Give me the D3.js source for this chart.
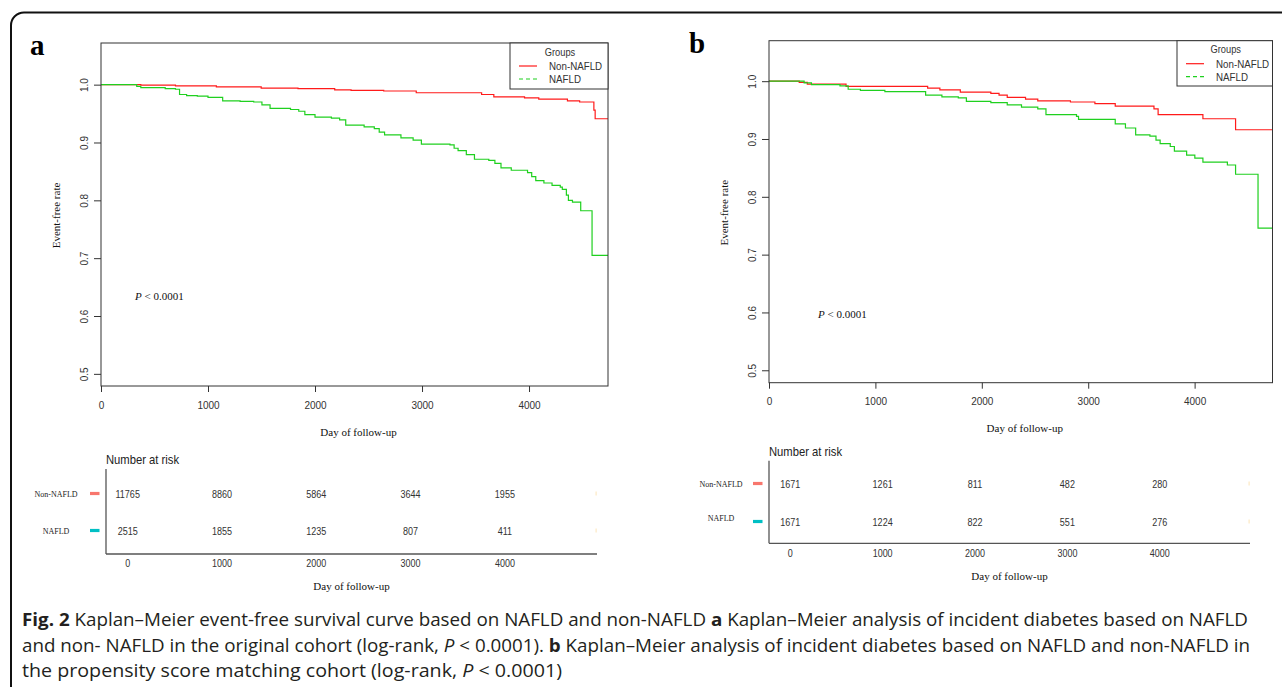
<!DOCTYPE html>
<html>
<head>
<meta charset="utf-8">
<script src="https://cdn.jsdelivr.net/npm/d3@7"></script>
<style>
  html, body { margin: 0; padding: 0; background: #fff; }
  svg { display: block; }
</style>
</head>
<body>
<svg id="chart" width="1282" height="687"></svg>
<script>
// ---------------- DATA ----------------
const groups = ["Non-NAFLD", "NAFLD"];
const xTicks = [0, 1000, 2000, 3000, 4000];
const yTicks = [0.5, 0.6, 0.7, 0.8, 0.9, 1.0];
const riskTimes = [0, 1000, 2000, 3000, 4000];

// Panel a: original cohort (step points: time, survival)
const aNonTime = [0, 372, 696, 1078, 1497, 1841, 2184, 2337, 2642, 2946, 3557, 3671, 3958, 4091, 4359, 4473, 4606, 4618, 4738];
const aNonSurv = [1.0, 0.999, 0.998, 0.996, 0.994, 0.993, 0.991, 0.990, 0.989, 0.986, 0.983, 0.979, 0.977, 0.975, 0.972, 0.970, 0.956, 0.941, 0.941];
const aNafTime = [0, 334, 372, 600, 696, 734, 800, 900, 1000, 1137, 1300, 1427, 1504, 1580, 1771, 1848, 1905, 2000, 2153, 2230, 2287, 2459, 2554, 2600, 2650, 2803, 2917, 2994, 3261, 3300, 3337, 3414, 3490, 3624, 3681, 3738, 3834, 3986, 4025, 4063, 4139, 4215, 4292, 4311, 4349, 4368, 4406, 4483, 4589, 4738];
const aNafSurv = [1.0, 0.997, 0.995, 0.993, 0.992, 0.983, 0.981, 0.980, 0.978, 0.972, 0.971, 0.970, 0.965, 0.959, 0.957, 0.954, 0.948, 0.944, 0.942, 0.939, 0.930, 0.927, 0.924, 0.918, 0.913, 0.908, 0.904, 0.897, 0.896, 0.890, 0.886, 0.879, 0.871, 0.869, 0.864, 0.856, 0.852, 0.848, 0.841, 0.834, 0.830, 0.826, 0.823, 0.819, 0.809, 0.800, 0.797, 0.782, 0.705, 0.705];

// Panel b: propensity score matching cohort
const bNonTime = [0, 284, 360, 724, 1491, 1606, 1798, 2085, 2162, 2239, 2411, 2526, 2833, 3063, 3254, 3618, 3657, 4078, 4385, 4732];
const bNonSurv = [1.0, 0.998, 0.995, 0.991, 0.988, 0.985, 0.981, 0.979, 0.976, 0.972, 0.969, 0.966, 0.964, 0.961, 0.957, 0.952, 0.942, 0.935, 0.916, 0.916];
const bNafTime = [0, 330, 399, 667, 744, 859, 1089, 1472, 1625, 1779, 1855, 2085, 2239, 2373, 2526, 2603, 2890, 2909, 3254, 3350, 3446, 3580, 3637, 3676, 3771, 3810, 3925, 4002, 4078, 4308, 4385, 4596, 4732];
const bNafSurv = [1.0, 0.997, 0.994, 0.992, 0.986, 0.984, 0.982, 0.976, 0.973, 0.971, 0.965, 0.963, 0.959, 0.955, 0.952, 0.942, 0.939, 0.934, 0.926, 0.919, 0.907, 0.905, 0.898, 0.892, 0.887, 0.879, 0.872, 0.867, 0.860, 0.855, 0.839, 0.746, 0.746];

// Number at risk
const aRiskNon = [11765, 8860, 5864, 3644, 1955];
const aRiskNaf = [2515, 1855, 1235, 807, 411];
const bRiskNon = [1671, 1261, 811, 482, 280];
const bRiskNaf = [1671, 1224, 822, 551, 276];

const captionLines = [
  [{t:"Fig. 2", b:1}, {t:" Kaplan–Meier event-free survival curve based on NAFLD and non-NAFLD "}, {t:"a", b:1}, {t:" Kaplan–Meier analysis of incident diabetes based on NAFLD"}],
  [{t:"and non- NAFLD in the original cohort (log-rank, "}, {t:"P", i:1}, {t:" < 0.0001). "}, {t:"b", b:1}, {t:" Kaplan–Meier analysis of incident diabetes based on NAFLD and non-NAFLD in"}],
  [{t:"the propensity score matching cohort (log-rank, "}, {t:"P", i:1}, {t:" < 0.0001)"}]
];

// ---------------- STYLE / LAYOUT ----------------
const RED = "#ff1a1a", GREEN = "#1fd01f";
const RISK_COLORS = ["#f8766d", "#00bfc4"];
const SANS = "'Liberation Sans', Arial, Helvetica, sans-serif";
const SERIF = "'Liberation Serif', 'Times New Roman', serif";

const svg = d3.select("#chart");

// outer rounded frame
svg.append("rect").attr("x", 11).attr("y", 12.5).attr("width", 1320).attr("height", 720)
  .attr("rx", 13).attr("fill", "none").attr("stroke", "#111").attr("stroke-width", 2);

const panels = [
  { label: "a", lx: 30, ly: 55,
    box: {l: 101, t: 43, r: 608, b: 386}, xDom: [0, 4738], yDom: [0.479, 1.072],
    series: [[aNonTime, aNonSurv], [aNafTime, aNafSurv]],
    legend: {l: 510, t: 43, r: 608, b: 89},
    pText: {x: 135, y: 300},
    yLabX: 60,
    table: {l: 106, r: 597, top: 469, bottom: 554, rows: [493.5, 530.5], titleY: 464, tickY: 567, xLabY: 590, labX: 56, rowLabY: [497, 534], dashX: 90},
    risk: [aRiskNon, aRiskNaf]
  },
  { label: "b", lx: 689, ly: 53,
    box: {l: 769, t: 40.7, r: 1272.5, b: 382.7}, xDom: [0, 4732], yDom: [0.4785, 1.070],
    series: [[bNonTime, bNonSurv], [bNafTime, bNafSurv]],
    legend: {l: 1177, t: 40.7, r: 1272.5, b: 86},
    pText: {x: 818, y: 318},
    yLabX: 728,
    table: {l: 769, r: 1250, top: 460.7, bottom: 543.3, rows: [483.5, 521.5], titleY: 456, tickY: 557, xLabY: 580, labX: 721, rowLabY: [487, 521], dashX: 753},
    risk: [bRiskNon, bRiskNaf]
  }
];

panels.forEach(p => {
  const g = svg.append("g");
  const B = p.box;
  const x = d3.scaleLinear().domain(p.xDom).range([B.l, B.r]);
  const y = d3.scaleLinear().domain(p.yDom).range([B.b, B.t]);

  // panel letter
  g.append("text").attr("x", p.lx).attr("y", p.ly).text(p.label)
    .attr("font-family", SERIF).attr("font-weight", "bold").attr("font-size", 29).attr("fill", "#000");

  // curves
  const line = d3.line().x(d => x(d[0])).y(d => y(d[1])).curve(d3.curveStepAfter);
  [RED, GREEN].forEach((col, i) => {
    const [ts, ss] = p.series[i];
    const pts = ts.map((t, k) => [t, ss[k]]);
    g.append("path").attr("d", line(pts)).attr("fill", "none")
      .attr("stroke", col).attr("stroke-width", 1.2);
  });

  // box
  g.append("rect").attr("x", B.l).attr("y", B.t).attr("width", B.r - B.l).attr("height", B.b - B.t)
    .attr("fill", "none").attr("stroke", "#333").attr("stroke-width", 1);

  // y axis
  const ya = g.append("g").attr("transform", `translate(${B.l},0)`)
    .call(d3.axisLeft(y).tickValues(yTicks).tickSize(7).tickFormat(d3.format(".1f")));
  ya.select(".domain").remove();
  ya.selectAll("line").attr("stroke", "#333");
  ya.selectAll("text").attr("x", null).attr("dy", null).attr("y", null)
    .attr("transform", "translate(-13.5,0) rotate(-90)").attr("text-anchor", "middle")
    .attr("font-family", SANS).attr("font-size", 10).attr("fill", "#333");

  // x axis
  const xa = g.append("g").attr("transform", `translate(0,${B.b})`)
    .call(d3.axisBottom(x).tickValues(xTicks).tickSize(6).tickFormat(d3.format("d")));
  xa.select(".domain").remove();
  xa.selectAll("line").attr("stroke", "#333");
  xa.selectAll("text").attr("dy", null).attr("y", 22.5)
    .attr("font-family", SANS).attr("font-size", 10).attr("fill", "#333");

  // axis titles
  g.append("text").attr("transform", `translate(${p.yLabX},${(B.t + B.b) / 2 + 1}) rotate(-90)`)
    .attr("text-anchor", "middle").attr("font-family", SERIF).attr("font-size", 11).attr("fill", "#111")
    .text("Event-free rate");
  g.append("text").attr("x", (B.l + B.r) / 2 + 4).attr("y", B.b + 49.5)
    .attr("text-anchor", "middle").attr("font-family", SERIF).attr("font-size", 11).attr("fill", "#111")
    .text("Day of follow-up");

  // P value
  const pt = g.append("text").attr("x", p.pText.x).attr("y", p.pText.y)
    .attr("font-family", SERIF).attr("font-size", 11).attr("fill", "#111");
  pt.append("tspan").attr("font-style", "italic").text("P");
  pt.append("tspan").text(" < 0.0001");

  // legend
  const L = p.legend;
  g.append("rect").attr("x", L.l).attr("y", L.t).attr("width", L.r - L.l).attr("height", L.b - L.t)
    .attr("fill", "#fff").attr("stroke", "#333").attr("stroke-width", 1);
  g.append("text").attr("transform", `translate(${(L.l + L.r) / 2 + 1},${L.t + 12.5}) scale(0.93,1)`)
    .attr("text-anchor", "middle")
    .attr("font-family", SANS).attr("font-size", 10).attr("fill", "#333").text("Groups");
  const legY = d3.scalePoint().domain(groups).range([L.t + 23, L.t + 36]);
  groups.forEach((gr, i) => {
    g.append("line").attr("x1", L.l + 9).attr("x2", L.l + 27).attr("y1", legY(gr)).attr("y2", legY(gr))
      .attr("stroke", i === 0 ? RED : GREEN).attr("stroke-width", 1.2)
      .attr("stroke-dasharray", i === 0 ? null : "4,3");
    g.append("text").attr("transform", `translate(${L.l + 39},${legY(gr) + 4}) scale(0.93,1)`)
      .attr("font-family", SANS).attr("font-size", 10.5).attr("fill", "#333").text(gr);
  });

  // ---------- risk table ----------
  const T = p.table;
  const xt = d3.scaleLinear().domain([-230, 4977]).range([T.l, T.r]);
  const rowY = d3.scaleOrdinal().domain(groups).range(T.rows);

  g.append("text").attr("transform", `translate(${T.l},${T.titleY}) scale(0.9,1)`)
    .attr("font-family", SANS).attr("font-size", 12.5).attr("fill", "#222").text("Number at risk");

  g.append("line").attr("x1", T.l).attr("x2", T.l).attr("y1", T.top).attr("y2", T.bottom)
    .attr("stroke", "#555").attr("stroke-width", 1.3);
  g.append("line").attr("x1", T.l).attr("x2", T.r).attr("y1", T.bottom).attr("y2", T.bottom)
    .attr("stroke", "#555").attr("stroke-width", 1.3);

  groups.forEach((gr, gi) => {
    // row label
    g.append("text").attr("x", T.labX).attr("y", T.rowLabY[gi]).attr("text-anchor", "middle")
      .attr("font-family", SERIF).attr("font-size", 8).attr("fill", "#222").text(gr);
    // coloured key dash
    g.append("rect").attr("x", T.dashX).attr("y", rowY(gr) - 1.6).attr("width", 9.5).attr("height", 3.2)
      .attr("fill", RISK_COLORS[gi]);
    // numbers
    p.risk[gi].forEach((v, k) => {
      g.append("text").attr("transform", `translate(${xt(riskTimes[k])},${rowY(gr) + 4}) scale(0.86,1)`)
        .attr("text-anchor", "middle").attr("font-family", SANS).attr("font-size", 10.5).attr("fill", "#333")
        .text(v);
    });
    // faint clipped label at the far end
    g.append("rect").attr("x", xt(4977) - 1.5).attr("y", rowY(gr) - 2).attr("width", 1.2).attr("height", 4)
      .attr("fill", "#fde9c4");
  });

  riskTimes.forEach(t => {
    g.append("text").attr("transform", `translate(${xt(t)},${T.tickY}) scale(0.9,1)`)
      .attr("text-anchor", "middle").attr("font-family", SANS).attr("font-size", 10).attr("fill", "#333")
      .text(t);
  });
  g.append("text").attr("x", (T.l + T.r) / 2).attr("y", T.xLabY).attr("text-anchor", "middle")
    .attr("font-family", SERIF).attr("font-size", 11).attr("fill", "#111").text("Day of follow-up");
});

// ---------------- CAPTION ----------------
const capY = [626, 652, 677];
const capLen = [1226, 1228, 540];
captionLines.forEach((parts, li) => {
  const t = svg.append("text").attr("x", 22).attr("y", capY[li])
    .attr("font-family", "'Open Sans', 'Noto Sans', sans-serif").attr("font-size", 18.5).attr("fill", "#231f20")
    .attr("textLength", capLen[li]).attr("lengthAdjust", "spacingAndGlyphs");
  parts.forEach(pp => {
    const ts = t.append("tspan").text(pp.t);
    if (pp.b) ts.attr("font-weight", "bold");
    if (pp.i) ts.attr("font-style", "italic");
  });
});
</script>
</body>
</html>
